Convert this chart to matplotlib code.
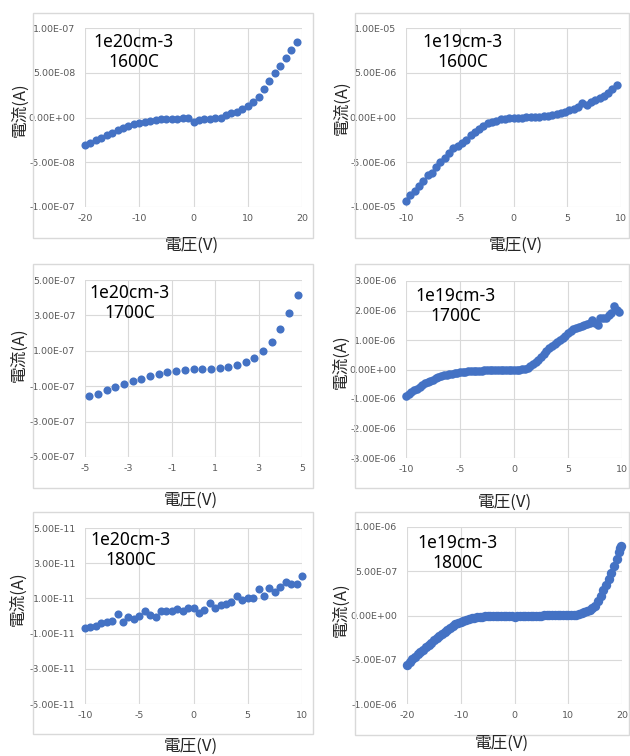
import matplotlib.pyplot as plt
from matplotlib.patches import Rectangle
from matplotlib.ticker import FuncFormatter

W, H = 630, 756
BLUE = '#4472C4'
GRID = '#D9D9D9'
TICK = '#595959'
LABEL = '#262626'

# ---- data (current in units noted per panel) ----
# 1e20cm-3, 1600C  (A x 1e-8)
v1 = [-20, -19, -18, -17, -16, -15, -14, -13, -12, -11,
      -10, -9, -8, -7, -6, -5, -4, -3, -2, -1,
      0, 1, 2, 3, 4, 5, 6, 7, 8, 9,
      10, 11, 12, 13, 14, 15, 16, 17, 18, 19]
i1 = [-3.07, -2.8, -2.5, -2.25, -2.0, -1.7, -1.4, -1.15, -0.95, -0.75,
      -0.6, -0.45, -0.37, -0.27, -0.22, -0.19, -0.15, -0.12, -0.1, -0.08,
      -0.55, -0.27, -0.15, -0.12, -0.08, -0.05, 0.25, 0.45, 0.65, 0.9,
      1.25, 1.75, 2.3, 3.15, 4.1, 4.95, 5.7, 6.6, 7.5, 8.4]

# 1e19cm-3, 1600C  (A x 1e-6)
v2 = [-10.0, -9.6, -9.2, -8.8, -8.4, -8.0, -7.6, -7.2, -6.8, -6.4,
      -6.0, -5.6, -5.2, -4.8, -4.4, -4.0, -3.6, -3.2, -2.8, -2.4,
      -2.0, -1.6, -1.2, -0.8, -0.4, 0.0, 0.4, 0.8, 1.2, 1.6,
      2.0, 2.4, 2.8, 3.2, 3.6, 4.0, 4.4, 4.8, 5.2, 5.6,
      6.0, 6.4, 6.8, 7.2, 7.6, 8.0, 8.4, 8.8, 9.2, 9.6]
i2 = [-9.3, -8.7, -8.2, -7.6, -7.1, -6.4, -6.2, -5.5, -5.0, -4.5,
      -4.0, -3.4, -3.2, -2.85, -2.5, -2.0, -1.65, -1.24, -0.9, -0.67,
      -0.49, -0.34, -0.22, -0.15, -0.07, -0.04, 0.0, 0.0, 0.04, 0.04,
      0.07, 0.11, 0.15, 0.22, 0.3, 0.41, 0.52, 0.67, 0.79, 0.97,
      1.12, 1.57, 1.42, 1.72, 1.95, 2.17, 2.4, 2.7, 3.2, 3.6]

# 1e20cm-3, 1700C  (A x 1e-7)
v3 = [-4.8, -4.4, -4.0, -3.6, -3.2, -2.8, -2.4, -2.0, -1.6, -1.2,
      -0.8, -0.4, 0.0, 0.4, 0.8, 1.2, 1.6, 2.0, 2.4, 2.8,
      3.2, 3.6, 4.0, 4.4, 4.8]
i3 = [-1.58, -1.42, -1.2, -1.07, -0.88, -0.73, -0.6, -0.42, -0.29, -0.18,
      -0.12, -0.07, -0.05, -0.05, -0.03, 0.03, 0.07, 0.18, 0.35, 0.61,
      1.0, 1.52, 2.22, 3.16, 4.18]

# 1e19cm-3, 1700C  (A x 1e-6)
v4 = [-10.0, -9.75, -9.5, -9.25, -9.0, -8.75, -8.5, -8.25, -8.0, -7.75,
      -7.5, -7.25, -7.0, -6.75, -6.5, -6.25, -6.0, -5.75, -5.5, -5.25,
      -5.0, -4.75, -4.5, -4.25, -4.0, -3.75, -3.5, -3.25, -3.0, -2.75,
      -2.5, -2.25, -2.0, -1.75, -1.5, -1.25, -1.0, -0.75, -0.5, -0.25,
      0.0, 0.25, 0.5, 0.75, 1.0, 1.25, 1.5, 1.75, 2.0, 2.25,
      2.5, 2.75, 3.0, 3.25, 3.5, 3.75, 4.0, 4.25, 4.5, 4.75,
      5.0, 5.25, 5.5, 5.75, 6.0, 6.25, 6.5, 6.75, 7.0, 7.25,
      7.5, 7.75, 8.0, 8.25, 8.5, 8.75, 9.0, 9.25, 9.5, 9.75]
i4 = [-0.9, -0.83, -0.76, -0.7, -0.65, -0.59, -0.53, -0.47, -0.42, -0.38,
      -0.34, -0.3, -0.26, -0.23, -0.2, -0.18, -0.16, -0.14, -0.125, -0.11,
      -0.09, -0.08, -0.07, -0.065, -0.06, -0.05, -0.045, -0.04, -0.035, -0.03,
      -0.025, -0.02, -0.02, -0.015, -0.015, -0.01, -0.01, -0.01, -0.01, -0.01,
      -0.01, 0.0, 0.0, 0.01, 0.03, 0.06, 0.11, 0.17, 0.24, 0.32,
      0.41, 0.52, 0.63, 0.73, 0.81, 0.88, 0.94, 1.0, 1.06, 1.14,
      1.23, 1.31, 1.37, 1.41, 1.45, 1.48, 1.51, 1.55, 1.59, 1.68,
      1.58, 1.5, 1.73, 1.75, 1.76, 1.84, 1.91, 2.16, 2.02, 1.96]

# 1e20cm-3, 1800C  (A x 1e-11)
v5 = [-10.0, -9.5, -9.0, -8.5, -8.0, -7.5, -7.0, -6.5, -6.0, -5.5,
      -5.0, -4.5, -4.0, -3.5, -3.0, -2.5, -2.0, -1.5, -1.0, -0.5,
      0.0, 0.5, 1.0, 1.5, 2.0, 2.5, 3.0, 3.5, 4.0, 4.5,
      5.0, 5.5, 6.0, 6.5, 7.0, 7.5, 8.0, 8.5, 9.0, 9.5, 10.0]
i5 = [-0.71, -0.6, -0.56, -0.41, -0.35, -0.3, 0.14, -0.33, -0.05, -0.18,
      0.01, 0.27, 0.05, -0.05, 0.27, 0.27, 0.26, 0.39, 0.31, 0.43,
      0.45, 0.16, 0.35, 0.73, 0.48, 0.62, 0.69, 0.77, 1.11, 0.92,
      1.0, 1.0, 1.53, 1.15, 1.58, 1.38, 1.64, 1.91, 1.83, 1.83, 2.25]

# 1e19cm-3, 1800C  (A x 1e-7)
v6 = [-20.0, -19.5, -19.0, -18.5, -18.0, -17.5, -17.0, -16.5, -16.0, -15.5,
      -15.0, -14.5, -14.0, -13.5, -13.0, -12.5, -12.0, -11.5, -11.0, -10.5,
      -10.0, -9.5, -9.0, -8.5, -8.0, -7.5, -7.0, -6.5, -6.0, -5.5,
      -5.0, -4.5, -4.0, -3.5, -3.0, -2.5, -2.0, -1.5, -1.0, -0.5,
      0.0, 0.5, 1.0, 1.5, 2.0, 2.5, 3.0, 3.5, 4.0, 4.5,
      5.0, 5.5, 6.0, 6.5, 7.0, 7.5, 8.0, 8.5, 9.0, 9.5,
      10.0, 10.5, 11.0, 11.5, 12.0, 12.5, 13.0, 13.5, 14.0, 14.5,
      15.0, 15.5, 16.0, 16.5, 17.0, 17.5, 18.0, 18.5, 19.0, 19.5,
      19.7, 19.8]
i6 = [-5.6, -5.28, -4.97, -4.68, -4.4, -4.12, -3.85, -3.58, -3.32, -3.07,
      -2.82, -2.57, -2.32, -2.07, -1.83, -1.6, -1.38, -1.18, -0.99, -0.83,
      -0.69, -0.57, -0.46, -0.37, -0.3, -0.24, -0.19, -0.15, -0.12, -0.09,
      -0.07, -0.05, -0.04, -0.03, -0.02, -0.02, -0.02, -0.02, -0.03, -0.05,
      -0.15, -0.06, -0.03, -0.02, -0.01, -0.01, 0.0, 0.0, 0.0, 0.0,
      0.0, 0.01, 0.01, 0.01, 0.01, 0.02, 0.02, 0.02, 0.02, 0.03,
      0.03, 0.04, 0.06, 0.1, 0.17, 0.27, 0.38, 0.52, 0.66, 0.82,
      1.1, 1.6, 2.2, 2.85, 3.5, 4.15, 4.85, 5.6, 6.4, 7.2,
      7.6, 7.9]

xticks = {
    1: [-20, -10, 0, 10, 20],
    2: [-10, -5, 0, 5, 10],
    3: [-5, -3, -1, 1, 3, 5],
    4: [-10, -5, 0, 5, 10],
    5: [-10, -5, 0, 5, 10],
    6: [-20, -10, 0, 10, 20],
}
yticks = {
    1: [-1e-7, -5e-8, 0, 5e-8, 1e-7],
    2: [-1e-5, -5e-6, 0, 5e-6, 1e-5],
    3: [-5e-7, -3e-7, -1e-7, 1e-7, 3e-7, 5e-7],
    4: [-3e-6, -2e-6, -1e-6, 0, 1e-6, 2e-6, 3e-6],
    5: [-5e-11, -3e-11, -1e-11, 1e-11, 3e-11, 5e-11],
    6: [-1e-6, -5e-7, 0, 5e-7, 1e-6],
}
labels = {
    1: '1e20cm-3\n1600C', 2: '1e19cm-3\n1600C',
    3: '1e20cm-3\n1700C', 4: '1e19cm-3\n1700C',
    5: '1e20cm-3\n1800C', 6: '1e19cm-3\n1800C',
}
series = {
    1: (v1, [c * 1e-8 for c in i1]),
    2: (v2, [c * 1e-6 for c in i2]),
    3: (v3, [c * 1e-7 for c in i3]),
    4: (v4, [c * 1e-6 for c in i4]),
    5: (v5, [c * 1e-11 for c in i5]),
    6: (v6, [c * 1e-7 for c in i6]),
}

# ---- layout in pixels: chart box, plot area, text centres, marker size ----
layout = {
    1: dict(box=(33, 13, 313, 238), ax=(85, 28, 302, 207), note=(134, 52), yl=(20, 110), xl=(192, 245), ms=34),
    2: dict(box=(355, 13, 629, 238), ax=(406, 28, 621, 207), note=(463, 52), yl=(342, 108), xl=(516, 245), ms=36),
    3: dict(box=(33, 264, 313, 488), ax=(85, 280, 302, 457), note=(130, 303), yl=(19, 355), xl=(191, 500), ms=34),
    4: dict(box=(355, 264, 629, 488), ax=(406, 281, 622, 458), note=(456, 306), yl=(341, 362), xl=(505, 502), ms=38),
    5: dict(box=(33, 512, 313, 734), ax=(85, 528, 302, 704), note=(131, 550), yl=(18, 599), xl=(191, 746), ms=34),
    6: dict(box=(355, 512, 629, 735), ax=(407, 527, 622, 704), note=(458, 553), yl=(341, 610), xl=(502, 743), ms=46),
}

plt.rcParams['font.family'] = ['Noto Sans CJK JP', 'DejaVu Sans']

fig = plt.figure(figsize=(W / 100, H / 100), dpi=100)


def fig_rect(l, t, r, b):
    return [l / W, 1 - b / H, (r - l) / W, (b - t) / H]


for k in range(1, 7):
    lay = layout[k]
    l, t, r, b = lay['box']
    fig.patches.append(Rectangle((l / W, 1 - b / H), (r - l) / W, (b - t) / H,
                                 transform=fig.transFigure, fill=False,
                                 edgecolor=GRID, linewidth=1.0))
    ax = fig.add_axes(fig_rect(*lay['ax']))
    v, cur = series[k]
    ax.scatter(v, cur, s=lay['ms'], color=BLUE, linewidths=0, zorder=3, clip_on=False)
    ax.set_xlim(xticks[k][0], xticks[k][-1])
    ax.set_ylim(yticks[k][0], yticks[k][-1])
    ax.set_xticks(xticks[k])
    ax.set_yticks(yticks[k])
    ax.xaxis.set_major_formatter(FuncFormatter(lambda x, _: f'{x:g}'))
    ax.yaxis.set_major_formatter(FuncFormatter(lambda y, _: f'{y:.2E}'))
    ax.grid(True, color=GRID, linewidth=0.8)
    ax.set_axisbelow(True)
    for s in ax.spines.values():
        s.set_visible(False)
    ax.tick_params(axis='both', length=0, labelsize=6.8, labelcolor=TICK,
                   labelfontfamily=['Liberation Sans Narrow', 'DejaVu Sans'])
    ax.tick_params(axis='y', pad=7)
    ax.tick_params(axis='x', pad=5)

    nx, ny = lay['note']
    fig.text(nx / W, 1 - ny / H, labels[k], ha='center', va='center',
             multialignment='center', fontsize=12.5, color='black',
             family=['Noto Sans', 'DejaVu Sans'], linespacing=1.15)
    yx, yy = lay['yl']
    fig.text(yx / W, 1 - yy / H, '電流(A)', rotation=90, ha='center', va='center',
             fontsize=12, color=LABEL)
    xx, xy = lay['xl']
    fig.text(xx / W, 1 - xy / H, '電圧(V)', ha='center', va='center',
             fontsize=12, color=LABEL)

fig.savefig('out.png', dpi=100)
plt.close(fig)
